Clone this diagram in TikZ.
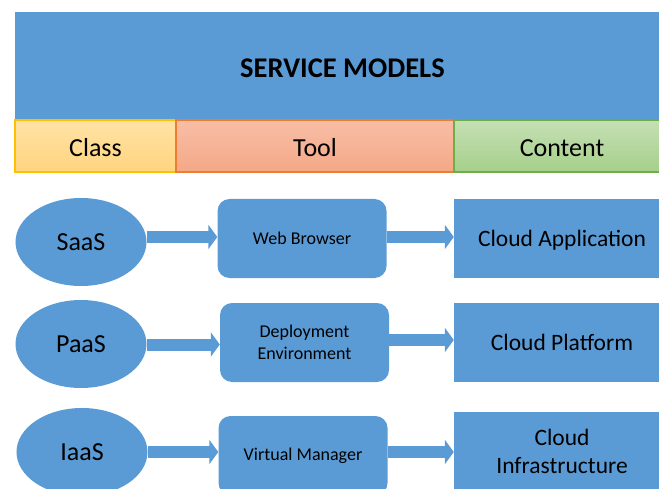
\documentclass[tikz,border=0pt]{standalone}
\usepackage{fontspec}
\setmainfont{Carlito}
\usetikzlibrary{shapes.geometric,arrows.meta}

\definecolor{cloudblue}{HTML}{5B9BD5}
\definecolor{classfill}{HTML}{FFD47F}
\definecolor{classtop}{HTML}{FFE3A6}
\definecolor{classline}{HTML}{FFC000}
\definecolor{toolfill}{HTML}{F4A886}
\definecolor{tooltop}{HTML}{F8BEA6}
\definecolor{toolline}{HTML}{ED7D31}
\definecolor{contfill}{HTML}{A6CF8A}
\definecolor{conttop}{HTML}{C5E0B4}
\definecolor{contline}{HTML}{70AD47}

\tikzset{
  banner/.style={rectangle, fill=cloudblue, inner sep=0pt,
    minimum width=655bp, minimum height=108bp,
    text height=23.5bp, text depth=0pt,
    font=\fontsize{28.5bp}{33bp}\selectfont\bfseries},
  headcell/.style={rectangle, inner sep=0pt, minimum height=52bp,
    line width=1.5bp, text height=21.5bp, text depth=0pt,
    font=\fontsize{26bp}{31bp}\selectfont},
  classbox/.style={ellipse, fill=cloudblue, inner sep=0pt,
    minimum width=131bp, minimum height=88bp,
    font=\fontsize{26bp}{31bp}\selectfont},
  toolbox/.style={rectangle, rounded corners=12bp, fill=cloudblue,
    inner sep=0pt, minimum width=169bp, minimum height=79bp,
    align=center, font=\fontsize{18bp}{22bp}\selectfont},
  contentbox/.style={rectangle, fill=cloudblue, inner sep=0pt,
    minimum width=216bp, minimum height=79bp, text depth=0pt,
    align=center, font=\fontsize{23.5bp}{28bp}\selectfont},
  blockarrow/.style={draw=cloudblue, line width=12bp,
    -{Triangle[length=9bp,width=24bp]}}
}

\begin{document}
\begin{tikzpicture}[x=1bp, y=-1bp]
  \useasboundingbox (0,0) rectangle (659,489);
  \clip (0,0) rectangle (659,489);

  % title banner
  \node[banner] (title) at (342.5,66) {SERVICE MODELS};

  % column headings
  \node[headcell, draw=classline, top color=classtop, bottom color=classfill,
        minimum width=161bp] (hclass) at (95.5,146) {Class};
  \node[headcell, draw=toolline, top color=tooltop, bottom color=toolfill,
        minimum width=278bp] (htool) at (315,146) {Tool};
  \node[headcell, draw=contline, top color=conttop, bottom color=contfill,
        minimum width=216bp] (hcont) at (562,146) {Content};

  % SaaS row
  \node[classbox] (saas) at (81,242) {SaaS};
  \node[toolbox] (web) at (302,238.5) {Web Browser};
  \node[contentbox] (app) at (562,238.5) {Cloud Application};

  % PaaS row
  \node[classbox] (paas) at (81,344) {PaaS};
  \node[toolbox] (dep) at (304.5,342.5) {Deployment\\Environment};
  \node[contentbox] (plat) at (562,342.5) {Cloud Platform};

  % IaaS row
  \node[classbox] (iaas) at (82,452) {IaaS};
  \node[toolbox] (vm) at (303,455.5) {Virtual Manager};
  \node[contentbox] (infra) at (562,451.5) {Cloud\\Infrastructure};

  % connectors
  \draw[blockarrow] (saas.east |- 0,237) -- (web.west |- 0,237);
  \draw[blockarrow] (web.east |- 0,237) -- (app.west |- 0,237);
  \draw[blockarrow] (paas.east |- 0,344.5) -- (dep.west |- 0,344.5);
  \draw[blockarrow] (dep.east |- 0,340) -- (plat.west |- 0,340);
  \draw[blockarrow] (iaas.east |- 0,452) -- (vm.west |- 0,452);
  \draw[blockarrow] (vm.east |- 0,452) -- (infra.west |- 0,452);
\end{tikzpicture}
\end{document}
